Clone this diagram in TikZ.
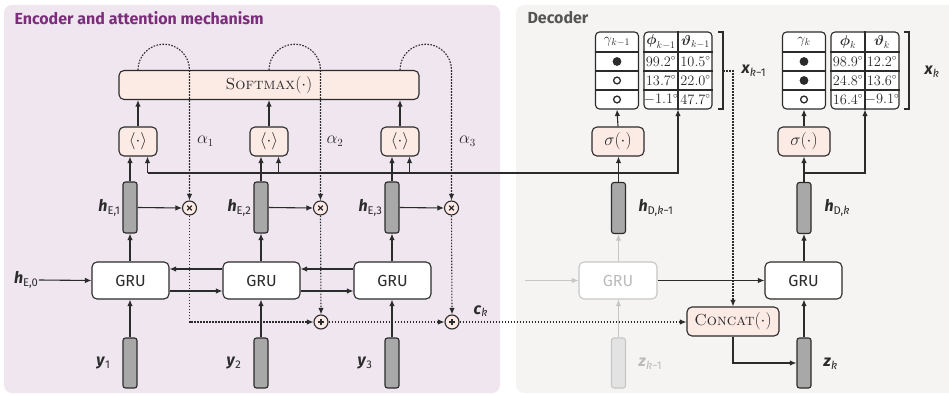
\documentclass[tikz,border=0pt]{standalone}
\usepackage{amsmath}
\usepackage{fontspec}
\newfontfamily\fira{Fira Sans}
\usetikzlibrary{arrows.meta,calc}

\definecolor{encbg}{HTML}{EFE6EF}
\definecolor{decbg}{HTML}{F5F4F2}
\definecolor{enctitle}{HTML}{7B2D7A}
\definecolor{dectitle}{HTML}{555555}
\definecolor{opfill}{HTML}{FCEAE5}
\definecolor{barfill}{HTML}{A8A8A8}
\definecolor{ink}{HTML}{2B2B2B}
\definecolor{faded}{HTML}{C6C6C6}
\definecolor{fadedtext}{HTML}{BBBBBB}
\definecolor{fadedbar}{HTML}{E3E3E3}

% bold italic vector with a sans subscript
\newcommand\vlab[2]{{\fira\textbf{\textit{#1}}\textsubscript{#2}}}

\tikzset{
  arr/.style={-{Latex[length=6.5pt,width=5.5pt]}},
  dots/.style={dash pattern=on 1.6pt off 1.4pt},
  gru/.style={draw=ink, fill=white, rounded corners=5pt, minimum width=77pt,
    minimum height=37pt, font=\fira\fontsize{16}{18}\selectfont, text=ink},
  bar/.style={draw=ink, fill=barfill, rounded corners=2.5pt, minimum width=14pt,
    minimum height=51pt, inner sep=0pt},
  op/.style={draw=ink, fill=opfill, rounded corners=5pt, minimum height=29pt,
    inner sep=2pt, font=\fontsize{16}{18}\selectfont, text=ink},
  mix/.style={circle, draw=ink, fill=opfill, minimum size=14pt, inner sep=0pt},
  mulnode/.style={mix, path picture={
    \draw[line width=1.3pt] (path picture bounding box.center) +(-2.3pt,-2.3pt) -- +(2.3pt,2.3pt)
      (path picture bounding box.center) +(-2.3pt,2.3pt) -- +(2.3pt,-2.3pt);}},
  addnode/.style={mix, path picture={
    \draw[line width=1.3pt] (path picture bounding box.center) +(-3.2pt,0) -- +(3.2pt,0)
      (path picture bounding box.center) +(0,-3.2pt) -- +(0,3.2pt);}},
  lab/.style={inner sep=0pt, text=ink, font=\fontsize{16}{18}\selectfont},
  tab/.style={draw=ink, fill=white, rounded corners=4pt, minimum height=77pt, inner sep=0pt},
  cell/.style={inner sep=0pt, text=ink, font=\fontsize{13.5}{15}\selectfont},
  head/.style={inner sep=0pt, text=ink, font=\fontsize{14.5}{16}\selectfont},
  ttl/.style={anchor=west, inner sep=0pt, font=\fira\bfseries\fontsize{16}{19}\selectfont},
}

\begin{document}
\begin{tikzpicture}[x=1pt,y=-1pt,line width=1.1pt,color=ink]
\useasboundingbox (0,0) rectangle (949,395);

% ---------- panels ----------
\fill[encbg, rounded corners=8pt] (4,5) rectangle (500,393);
\begin{scope}
  \clip (0,0) rectangle (949,395);
  \fill[decbg, rounded corners=8pt] (516,5) rectangle (962,393);
\end{scope}
\node[ttl, text=enctitle] (enctitle) at (14,18) {Encoder and attention mechanism};
\node[ttl, text=dectitle] (dectitle) at (527,18) {Decoder};

% ---------- encoder ----------
\coordinate (rowup) at (0,269);
\coordinate (rowdn) at (0,291);

\foreach \i/\x in {1/130, 2/261, 3/392} {
  \node[gru] (gru\i) at (\x+0.5,280.5) {GRU};
  \node[bar] (he\i) at (\x,207.5) {};
  \node[bar, minimum height=50pt] (y\i) at (\x,363) {};
  \node[op, minimum width=38pt] (ip\i) at (\x+8,141.5) {$\langle\cdot\rangle$};
  \node[mulnode] (mul\i) at (\x+59.5,208) {};
  \node[lab, anchor=east] (hel\i) at (\x-9,208) {\vlab{h}{E,\i}};
  \node[lab, anchor=east] (yl\i) at (\x-19,363) {\vlab{y}{\i}};
  \coordinate (att\i) at (\x+17.5,173);
}
\node[addnode] (add2) at (321,322) {};
\node[addnode] (add3) at (452,322) {};

\node[op, minimum width=300pt] (sm) at (269,85) {\textsc{Softmax}$(\cdot)$};

\node[lab, anchor=east] (he0) at (39,280) {\vlab{h}{E,0}};
\draw[arr] (he0.east) -- (gru1.west);

\foreach \i in {1,2,3} {
  \draw[arr] (y\i.north) -- (y\i.north |- gru\i.south);
  \draw[arr] (gru\i.north -| he\i) -- (he\i.south);
  \draw[arr] (he\i.east) -- (mul\i.west);
  \draw[arr] (he\i.north) -- (he\i.north |- ip\i.south);
  \draw[arr] (att\i) -- (att\i |- ip\i.south);
  \draw[arr] (ip\i.north) -- (ip\i.north |- sm.south);
  \draw[dots, arr] (ip\i.north |- sm.north) arc[start angle=180, end angle=0, radius=25.75pt]
    -- (mul\i.north);
}
\foreach \a/\b in {1/2, 2/3} {
  \draw[arr] (gru\b.west |- rowup) -- (gru\a.east |- rowup);
  \draw[arr] (gru\a.east |- rowdn) -- (gru\b.west |- rowdn);
}

\node[lab] (al1) at (205.5,141) {$\alpha_1$};
\node[lab] (al2) at (335,141) {$\alpha_2$};
\node[lab] (al3) at (467.5,141) {$\alpha_3$};

% weighted sum -> context vector
\draw[dots, arr] (mul1.south) |- (add2.west);
\draw[dots, arr] (mul2.south) -- (add2.north);
\draw[dots, arr] (mul3.south) -- (add3.north);
\draw[dots, arr] (add2.east) -- (add3.west);
\node[lab, anchor=west] (ck) at (473,311) {\vlab{c}{\textit{k}}};

% ---------- decoder ----------
\node[gru, draw=faded, text=fadedtext, minimum width=78pt] (grud1) at (618,280.5) {GRU};
\node[gru] (grud2) at (803.5,280.5) {GRU};
\node[bar] (hd1) at (618.5,208) {};
\node[bar] (hd2) at (804,208) {};
\node[bar, draw=faded, fill=fadedbar, minimum height=50pt] (zd1) at (618.5,363) {};
\node[bar, minimum height=50pt] (zd2) at (804,363) {};
\node[op, minimum width=52pt] (sig1) at (618,141.5) {$\sigma(\cdot)$};
\node[op, minimum width=52pt] (sig2) at (804,141.5) {$\sigma(\cdot)$};
\node[op, minimum width=92pt] (concat) at (733,321.5) {\textsc{Concat}$(\cdot)$};

\node[lab, anchor=west] (hdl1) at (638,208) {\vlab{h}{D,\textit{k}−1}};
\node[lab, anchor=west] (hdl2) at (824,208) {\vlab{h}{D,\textit{k}}};
\node[lab, anchor=west, text=fadedtext] (zl1) at (638,364) {\vlab{z}{\textit{k}−1}};
\node[lab, anchor=west] (zl2) at (823,364) {\vlab{z}{\textit{k}}};

\coordinate (din) at (525,280.5);
\draw[arr, faded] (din) -- (grud1.west);
\draw[arr, faded] (zd1.north) -- (zd1.north |- grud1.south);
\draw[arr, faded] (grud1.north -| hd1) -- (hd1.south);
\draw[arr] (grud1.east) -- (grud2.west);
\draw[arr] (zd2.north) -- (zd2.north |- grud2.south);
\draw[arr] (grud2.north -| hd2) -- (hd2.south);
\draw[arr] (hd1.north) -- (hd1.north |- sig1.south);
\draw[arr] (hd2.north) -- (hd2.north |- sig2.south);
\draw[dots, arr] (add3.east) -- (add3.east -| concat.west);
\draw[arr] (concat.south) |- (zd2.west);

% output tables
\foreach \k/\gx/\ax in {1/617/678, 2/804/865} {
  \node[tab, minimum width=43pt] (gam\k) at (\gx,70.5) {};
  \node[tab, minimum width=68pt] (ang\k) at (\ax,70.5) {};
  \foreach \yy in {52,71,90} {
    \draw (gam\k.west |- 0,\yy) -- (gam\k.east |- 0,\yy);
    \draw (ang\k.west |- 0,\yy) -- (ang\k.east |- 0,\yy);
  }
  \draw (ang\k.north) -- (ang\k.south);
  \draw[arr] (sig\k.north) -- (gam\k.south);
}
% header and entries, step k-1
\node[head] (g1h) at (617,42) {$\gamma_{k-1}$};
\node[head] (p1h) at (661,42) {$\boldsymbol{\phi}_{k-1}$};
\node[head] (t1h) at (695.5,42) {$\boldsymbol{\vartheta}_{k-1}$};
\node[cell] (p11) at (661,61.5) {$99.2^\circ$};
\node[cell] (t11) at (695.5,61.5) {$10.5^\circ$};
\node[cell] (p12) at (661,80.5) {$13.7^\circ$};
\node[cell] (t12) at (695.5,80.5) {$22.0^\circ$};
\node[cell] (p13) at (661,99.5) {$-1.1^\circ$};
\node[cell] (t13) at (695.5,99.5) {$47.7^\circ$};
\fill (617,61.5) circle (4.4pt);
\draw[line width=1.3pt] (617,80.5) circle (3.4pt);
\draw[line width=1.3pt] (617,99.5) circle (3.4pt);
% header and entries, step k
\node[head] (g2h) at (804,42) {$\gamma_{k}$};
\node[head] (p2h) at (848,42) {$\boldsymbol{\phi}_{k}$};
\node[head] (t2h) at (882,42) {$\boldsymbol{\vartheta}_{k}$};
\node[cell] (p21) at (848,61.5) {$98.9^\circ$};
\node[cell] (t21) at (882,61.5) {$12.2^\circ$};
\node[cell] (p22) at (848,80.5) {$24.8^\circ$};
\node[cell] (t22) at (882,80.5) {$13.6^\circ$};
\node[cell] (p23) at (848,99.5) {$16.4^\circ$};
\node[cell] (t23) at (882,99.5) {$-9.1^\circ$};
\fill (804,61.5) circle (4.4pt);
\fill (804,80.5) circle (4.4pt);
\draw[line width=1.3pt] (804,99.5) circle (3.4pt);

% brackets around the outputs
\draw (718,32) -- (723,32) -- (723,109) -- (718,109);
\draw (904,32) -- (909,32) -- (909,109) -- (904,109);
\coordinate (br1) at (723,71);
\node[lab, anchor=west] (xl1) at (741,71) {\vlab{x}{\textit{k}−1}};
\node[lab, anchor=west] (xl2) at (924,72) {\vlab{x}{\textit{k}}};
\draw[dots, arr] (br1) -| (concat.north);

% decoder state fed back to the attention and to the angle tables
\draw[arr] (att1) -| (ang1.south);
\coordinate (att4) at (804,173);
\draw[arr] (att4) -| (ang2.south);
\end{tikzpicture}
\end{document}
